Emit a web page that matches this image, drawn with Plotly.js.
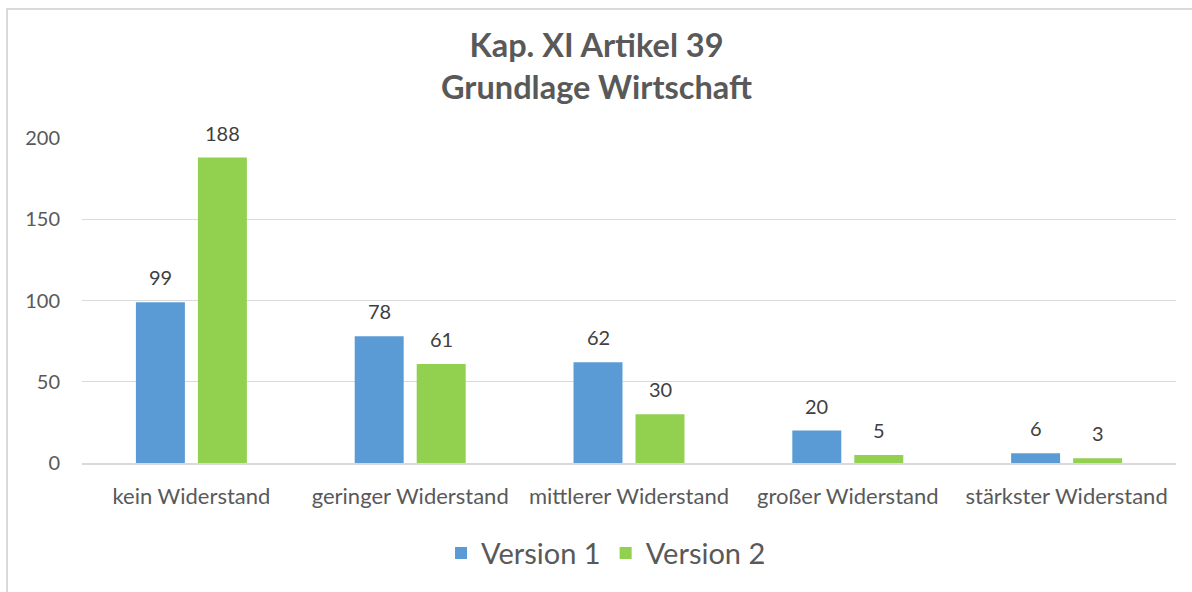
<!DOCTYPE html>
<html>
<head>
<meta charset="utf-8">
<script src="https://cdn.plot.ly/plotly-3.0.1.min.js"></script>
<style>
html,body{margin:0;padding:0;background:#fff;}
#frame{position:absolute;left:6px;top:8px;width:1300px;height:700px;border:2px solid #d9d9d9;box-sizing:border-box;}
#chart{position:absolute;left:0;top:0;width:1192px;height:592px;}
</style>
</head>
<body>
<div id="frame"></div>
<div id="chart"></div>
<script>
const categories = ["kein Widerstand","geringer Widerstand","mittlerer Widerstand","großer Widerstand","stärkster Widerstand"];
const version1 = [99, 78, 62, 20, 6];
const version2 = [188, 61, 30, 5, 3];
const seriesNames = ["Version 1","Version 2"];
const yTicks = [0, 50, 100, 150, 200];
const titleLines = ["Kap. XI Artikel 39", "Grundlage Wirtschaft"];

const font = "Lato, Open Sans, sans-serif";
const colors = ['#5b9bd5', '#92d050'];
const series = [version1, version2];
const mk = (y, name, color) => ({
  type: 'bar', x: categories, y: y, name: name,
  marker: {color: color},
  hoverinfo: 'none'
});
const data = series.map((s, i) => mk(s, seriesNames[i], colors[i]));

// value labels above each bar, positioned through the axes
const labelShift = [-31, 31];
const annotations = [];
series.forEach((s, i) => {
  s.forEach((v, j) => {
    annotations.push({
      x: categories[j], y: v, xref: 'x', yref: 'y', text: String(v),
      xshift: labelShift[i], yshift: 25, yanchor: 'middle', xanchor: 'center',
      showarrow: false, font: {family: font, size: 20, color: '#404040'}
    });
  });
});
annotations.push({
  text: '<b>' + titleLines.join('<br>') + '</b>',
  xref: 'paper', yref: 'paper', x: 0.4705, y: 1.2246, xanchor: 'center', yanchor: 'middle',
  showarrow: false, align: 'center',
  font: {family: font, size: 32.5, color: '#595959'}
});

const layout = {
  width: 1192, height: 592,
  paper_bgcolor: 'rgba(0,0,0,0)', plot_bgcolor: 'rgba(0,0,0,0)',
  margin: {l: 82, r: 16, t: 138, b: 129},
  annotations: annotations,
  barmode: 'group', bargap: 0.4333, bargroupgap: 0.21,
  showlegend: true,
  legend: {orientation: 'h', x: 0.479, xanchor: 'center', y: -0.277, yanchor: 'middle', yref: 'paper',
    font: {family: font, size: 29, color: '#595959'}, itemwidth: 30, tracegroupgap: 0},
  xaxis: {type: 'category', showgrid: false, showline: true, linecolor: '#d9d9d9', linewidth: 2,
    ticks: '', ticklabelstandoff: 13, tickfont: {family: font, size: 22, color: '#595959'}},
  yaxis: {range: [0, 200], tickvals: yTicks, showgrid: true, gridcolor: '#d9d9d9', gridwidth: 1.3,
    zeroline: false, showline: false, ticks: '', ticklabelstandoff: 21,
    tickfont: {family: font, size: 20, color: '#595959'}}
};
Plotly.newPlot('chart', data, layout, {displayModeBar: false, staticPlot: true});
</script>
</body>
</html>
